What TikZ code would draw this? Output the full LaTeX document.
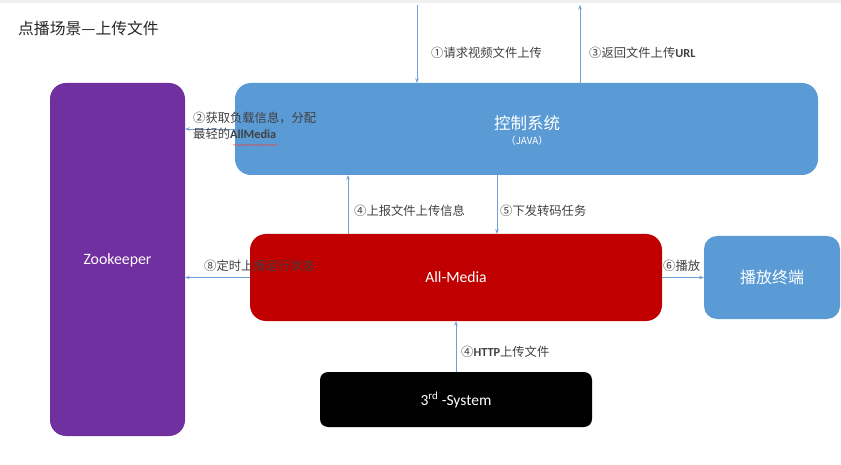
\documentclass[tikz,border=0pt]{standalone}
\usepackage{fontspec}
\setmainfont{Carlito}
\newfontfamily\cjk{Noto Sans CJK SC}
\usetikzlibrary{arrows.meta,decorations.pathmorphing}
\definecolor{zkpurple}{HTML}{7030A0}
\definecolor{ctlblue}{HTML}{5B9BD5}
\definecolor{amred}{HTML}{C00000}
\definecolor{arrowblue}{HTML}{6F9FD8}
\definecolor{lbl}{HTML}{404040}
\tikzset{
  box/.style={rounded corners=16pt, inner sep=0pt, draw=none, text=white},
  arr/.style={draw=arrowblue, line width=0.7pt, -{Stealth[length=4.5pt,width=3.5pt]}},
  lab/.style={anchor=west, inner sep=0pt, text=lbl, font=\cjk\fontsize{12.3}{14}\selectfont}
}
\begin{document}
\begin{tikzpicture}[x=1pt,y=-1pt]
\useasboundingbox (0,0) rectangle (841,465);
\fill[gray!12] (0,0) rectangle (841,3);
% title
\node[anchor=west, inner sep=0pt, text=black!85, font=\cjk\fontsize{15.8}{18}\selectfont] (title) at (18,28) {点播场景—上传文件};
% boxes
\node[box, fill=zkpurple, minimum width=135pt, minimum height=353pt] (zk) at (117.5,259.5) {};
\node[text=white, font=\fontsize{15.8}{18}\selectfont] (zkt) at (117.5,260) {Zookeeper};
\node[box, fill=ctlblue, minimum width=583pt, minimum height=92pt] (ctrl) at (526.5,129) {};
\node[text=white, font=\cjk\fontsize{16.5}{19}\selectfont] (ctrlt) at (527,123) {控制系统};
\node[text=white, font=\cjk\fontsize{9.8}{11}\selectfont] (ctrlj) at (527,141) {（JAVA）};
\node[box, fill=amred, minimum width=412pt, minimum height=87pt] (am) at (456,277.5) {};
\node[text=white, font=\fontsize{15.6}{18}\selectfont] (amt) at (456,277.5) {All-Media};
\node[box, fill=ctlblue, minimum width=136pt, minimum height=83pt, rounded corners=13pt] (play) at (772,277.5) {};
\node[text=white, font=\cjk\fontsize{16}{19}\selectfont] (playt) at (772,277.5) {播放终端};
\node[box, fill=black, minimum width=272pt, minimum height=55pt, rounded corners=8pt] (sys) at (456,399.5) {};
\node[text=white, font=\fontsize{15.5}{18}\selectfont] (syst) at (456,400) {3\textsuperscript{rd} -System};
% connector free ends / anchors
\coordinate (c1) at (417,5);
\coordinate (c3) at (580,5);
\coordinate (x4) at (348,0);
\coordinate (x5) at (497,0);
% connectors
\draw[arr] (c1) -- (c1 |- ctrl.north);
\draw[arr] (ctrl.north -| c3) -- (c3);
\draw[arr] (ctrl.west) -- (ctrl.west -| zk.east);
\draw[arr] (am.north -| x4) -- (ctrl.south -| x4);
\draw[arr] (ctrl.south -| x5) -- (am.north -| x5);
\draw[arr] (am.west) -- (am.west -| zk.east);
\draw[arr] (am.east) -- (am.east -| play.west);
\draw[arr] (sys.north) -- (sys.north |- am.south);
% labels
\node[lab] (l1) at (431,53) {①请求视频文件上传};
\node[lab] (l3) at (589,53) {③返回文件上传{\fontspec{Carlito}\bfseries URL}};
\node[lab, anchor=north west, align=left, font=\cjk\fontsize{12.3}{15.5}\selectfont] (l2) at (193,112) {②获取负载信息，分配\\最轻的{\fontspec{Carlito}\bfseries AllMedia}};
\draw[red!80, line width=0.4pt, decorate, decoration={snake, amplitude=0.5pt, segment length=2.5pt}] (233,145) -- (278,145);
\node[lab] (l4) at (354,211) {④上报文件上传信息};
\node[lab] (l5) at (500,211) {⑤下发转码任务};
\node[lab] (l8) at (204,266) {⑧定时上报运行状态};
\node[lab] (l6) at (663,266) {⑥播放};
\node[lab] (l9) at (461,352) {④{\fontspec{Carlito}\bfseries HTTP}上传文件};
\end{tikzpicture}
\end{document}
